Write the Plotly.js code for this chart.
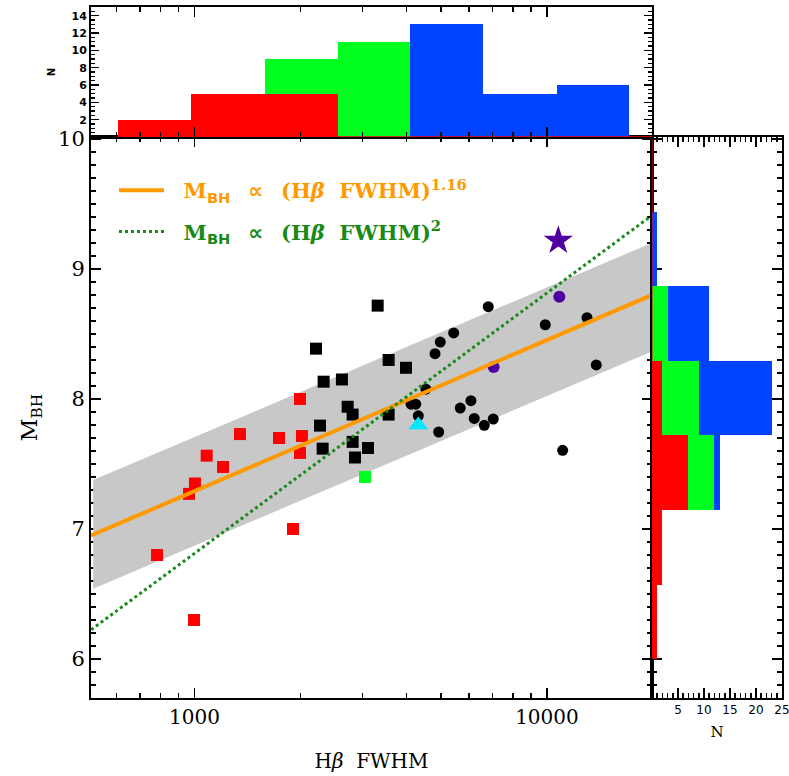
<!DOCTYPE html>
<html><head><meta charset="utf-8">
<script src="https://cdn.plot.ly/plotly-3.0.1.min.js"></script>
<style>html,body{margin:0;padding:0;background:#fff}</style>
</head><body><div id="chart" style="width:789px;height:776px"></div>
<script>
// ---------- data ----------
// red squares
const redSqX = [1992, 1346, 1737, 2018, 1992, 1083, 1205, 1003, 965, 1903, 783, 997];
const redSqY = [8.00, 7.73, 7.70, 7.715, 7.585, 7.564, 7.477, 7.35, 7.27, 7.00, 6.80, 6.30];
// green square
const greenSqX = [3046];
const greenSqY = [7.40];
// black squares
const blackSqX = [3309, 2212, 3555, 3981, 2325, 2620, 2720, 2810, 3555, 2270, 2810, 2310, 3106, 2853];
const blackSqY = [8.718, 8.387, 8.30, 8.24, 8.133, 8.15, 7.94, 7.88, 7.88, 7.795, 7.67, 7.618, 7.623, 7.55];
// black circles
const blackCiX = [6815, 12990, 9890, 5437, 4981, 4812, 13800, 4536, 4115, 4243, 6085, 5675, 4315, 6218, 7041, 6640, 4929, 11080];
const blackCiY = [8.71, 8.625, 8.571, 8.508, 8.438, 8.348, 8.262, 8.075, 7.96, 7.96, 7.987, 7.93, 7.87, 7.85, 7.846, 7.797, 7.746, 7.605];
// purple circles
const purpleCiX = [10840, 7059];
const purpleCiY = [8.787, 8.246];
// cyan triangle
const cyanTriX = [4315];
const cyanTriY = [7.80];
// purple star
const starX = [10770];
const starY = [9.218];

// fit line M ~ FWHM^1.16 and its scatter band
const fitX = [509, 19860];
const fitY = [6.95, 8.80];
const bandX = [516, 19750];
const bandUpper = [7.377, 9.198];
const bandLower = [6.54, 8.364];
// virial relation M ~ FWHM^2
const virX = [509, 19860];
const virY = [6.225, 9.412];

// top histogram (FWHM bins)
const topBinEdges = [608, 980, 1580, 2547, 4085, 6580, 10670, 17100];
const topRed   = [2, 5, 5, 0, 0, 0, 0];
const topGreen = [2, 5, 9, 11, 0, 0, 0];
const topBlue  = [2, 5, 9, 11, 13, 5, 6];

// right histogram (M_BH bins)
const rightBinEdges = [6.0, 6.573, 7.147, 7.72, 8.293, 8.867, 9.44];
const rightRed   = [1, 2, 7, 2, 0, 0];
const rightGreen = [1, 2, 12, 9, 3, 0];
const rightBlue  = [1, 2, 13, 23, 11, 1];

// tick labels
const xTickVals = [1000, 10000];
const xTickText = ['1000', '10000'];
const xMinorVals = [600, 700, 800, 900, 2000, 3000, 4000, 5000, 6000, 7000, 8000, 9000, 20000];
const topNTicks = [2, 4, 6, 8, 10, 12, 14];
const rightNTicks = [5, 10, 15, 20, 25];

// ---------- colours ----------
const RED = '#ff0000', GREEN = '#00ff1e', BLUE = '#0044ff';
const ORANGE = '#ff9900', DKGREEN = '#178a17';
const PURPLE = '#5000a0', CYAN = '#00e8ff', GREY = '#c8c8c8';

// ---------- helpers ----------
const log10 = Math.log10;
function centers(edges, lg) {
  const c = [];
  for (let i = 0; i < edges.length - 1; i++) {
    c.push(lg ? (log10(edges[i]) + log10(edges[i + 1])) / 2 : (edges[i] + edges[i + 1]) / 2);
  }
  return c;
}
function widths(edges, lg) {
  const w = [];
  for (let i = 0; i < edges.length - 1; i++) {
    w.push(lg ? log10(edges[i + 1]) - log10(edges[i]) : edges[i + 1] - edges[i]);
  }
  return w;
}
const topC = centers(topBinEdges, true), topW = widths(topBinEdges, true);
const rightC = centers(rightBinEdges, false), rightW = widths(rightBinEdges, false);

const XR = [2.7064, 4.298];
const YR = [5.7, 10.015];

const traces = [];
// band
traces.push({x: bandX, y: bandLower, type: 'scatter', mode: 'lines', line: {width: 0, color: GREY},
  showlegend: false, hoverinfo: 'skip', xaxis: 'x', yaxis: 'y'});
traces.push({x: bandX, y: bandUpper, type: 'scatter', mode: 'lines', line: {width: 0, color: GREY},
  fill: 'tonexty', fillcolor: GREY, showlegend: false, hoverinfo: 'skip', xaxis: 'x', yaxis: 'y'});
// points
function pts(x, y, sym, size, color) {
  return {x: x, y: y, type: 'scatter', mode: 'markers', showlegend: false,
    marker: {symbol: sym, size: size, color: color, line: {width: 0}}, xaxis: 'x', yaxis: 'y'};
}
traces.push(pts(redSqX, redSqY, 'square', 12, RED));
traces.push(pts(greenSqX, greenSqY, 'square', 12, GREEN));
traces.push(pts(blackSqX, blackSqY, 'square', 12, '#000'));
traces.push(pts(blackCiX, blackCiY, 'circle', 11, '#000'));
traces.push(pts(purpleCiX, purpleCiY, 'circle', 12, PURPLE));
traces.push(pts(cyanTriX, cyanTriY, 'triangle-up', 17, CYAN));
traces.push(pts(starX, starY, 'star', 22, PURPLE));
// lines
const G1 = '\u2002\u00a0', G2 = '\u00a0\u00a0';
const sansBH = '<span style="font-family:\'DejaVu Sans\'">BH</span>';
const propTo = '<span style="font-family:\'DejaVu Sans\'">∝</span>';
function legendText(color, expo) {
  return '<span style="color:' + color + '"><b>' + G2 + 'M<sub>' + sansBH + '</sub>' + G1 + propTo + G1 +
    '(H<i>β</i>' + G2 + 'FWHM)<sup>' + expo + '</sup></b></span>';
}
traces.push({x: fitX, y: fitY, type: 'scatter', mode: 'lines', line: {color: ORANGE, width: 4},
  name: legendText(ORANGE, '1.16'), legendgroup: 'a', xaxis: 'x', yaxis: 'y'});
traces.push({x: virX, y: virY, type: 'scatter', mode: 'lines', line: {color: DKGREEN, width: 3, dash: 'dot'},
  name: legendText(DKGREEN, '2'), legendgroup: 'b', xaxis: 'x', yaxis: 'y'});

// top histogram
function topBar(vals, color) {
  return {type: 'bar', x: topC, y: vals, width: topW, marker: {color: color, line: {width: 0}},
    showlegend: false, xaxis: 'x3', yaxis: 'y3'};
}
traces.push(topBar(topBlue, BLUE));
traces.push(topBar(topGreen, GREEN));
traces.push(topBar(topRed, RED));
traces.push({type: 'scatter', mode: 'lines', x: [log10(topBinEdges[3]), XR[1]], y: [0, 0],
  line: {color: RED, width: 1.5}, showlegend: false, xaxis: 'x3', yaxis: 'y3'});

// right histogram
function rightBar(vals, color) {
  return {type: 'bar', orientation: 'h', y: rightC, x: vals, width: rightW, marker: {color: color, line: {width: 0}},
    showlegend: false, xaxis: 'x2', yaxis: 'y2'};
}
traces.push(rightBar(rightBlue, BLUE));
traces.push(rightBar(rightGreen, GREEN));
traces.push(rightBar(rightRed, RED));
traces.push({type: 'scatter', mode: 'lines', x: [0, 0], y: [rightBinEdges[0], YR[1]],
  line: {color: RED, width: 1}, showlegend: false, xaxis: 'x2', yaxis: 'y2'});

const W = 789, H = 776;
const dx = (a, b) => [a / W, b / W];
const dy = (top, bot) => [(H - bot) / H, (H - top) / H];

const axBase = {showline: true, linecolor: '#000', linewidth: 2, mirror: 'allticks', ticks: 'inside',
  ticklen: 10, tickwidth: 1.5, tickcolor: '#000', showgrid: false, zeroline: false, fixedrange: true};

const serif = 'DejaVu Serif';
const layout = {
  width: W, height: H,
  margin: {l: 0, r: 0, t: 0, b: 0},
  paper_bgcolor: '#fff', plot_bgcolor: 'rgba(0,0,0,0)',
  barmode: 'overlay', bargap: 0,
  font: {family: serif, color: '#000'},
  showlegend: true,
  legend: {x: 114 / W, y: (H - 170) / H, xanchor: 'left', yanchor: 'top', bgcolor: 'rgba(0,0,0,0)',
    traceorder: 'grouped', font: {family: serif, size: 21}, itemwidth: 45, tracegroupgap: 11},
  xaxis: Object.assign({}, axBase, {domain: dx(91, 652), anchor: 'y', type: 'log', range: XR,
    tickmode: 'array', tickvals: xTickVals, ticktext: xTickText,
    tickfont: {family: serif, size: 20},
    minor: {tickmode: 'array', tickvals: xMinorVals, ticks: 'inside', ticklen: 5, tickwidth: 1.5, tickcolor: '#000'},
    title: {text: 'H<i>β</i>  FWHM', font: {family: serif, size: 20}, standoff: 26}}),
  yaxis: Object.assign({}, axBase, {domain: dy(137, 698), anchor: 'x', range: YR, dtick: 1, tick0: 0,
    tickfont: {family: serif, size: 21}, layer: 'below traces',
    minor: {dtick: 0.1, tick0: 0, ticks: 'inside', ticklen: 5, tickwidth: 1.5, tickcolor: '#000'},
    title: {text: 'M<sub>BH</sub>', font: {family: serif, size: 22}, standoff: 14}}),
  xaxis2: Object.assign({}, axBase, {domain: dx(652, 782), anchor: 'y2', range: [0, 25],
    tickmode: 'array', tickvals: rightNTicks, tickfont: {family: 'DejaVu Sans', size: 12},
    ticklabeloverflow: 'allow',
    minor: {dtick: 1, tick0: 0, ticks: 'inside', ticklen: 5, tickwidth: 1.5, tickcolor: '#000'},
    title: {text: 'N', font: {family: serif, size: 15}, standoff: 10}}),
  yaxis2: Object.assign({}, axBase, {domain: dy(137, 698), anchor: 'x2', matches: 'y', range: YR,
    dtick: 1, tick0: 0, showticklabels: false, layer: 'below traces',
    minor: {dtick: 0.1, tick0: 0, ticks: 'inside', ticklen: 5, tickwidth: 1.5, tickcolor: '#000'}}),
  xaxis3: Object.assign({}, axBase, {domain: dx(91, 652), anchor: 'y3', range: XR,
    tickmode: 'array', tickvals: xTickVals.map(log10), showticklabels: false,
    minor: {tickmode: 'array', tickvals: xMinorVals.map(log10), ticks: 'inside', ticklen: 5, tickwidth: 1.5, tickcolor: '#000'}}),
  yaxis3: Object.assign({}, axBase, {domain: dy(7, 137), anchor: 'x3', range: [0, 15],
    tickmode: 'array', tickvals: topNTicks, ticklen: 8,
    tickfont: {family: 'DejaVu Sans', size: 11, weight: 'bold'},
    minor: {dtick: 0.5, tick0: 0, ticks: 'inside', ticklen: 4, tickwidth: 1.5, tickcolor: '#000'},
    title: {text: 'N', font: {family: 'DejaVu Sans', size: 10, weight: 'bold'}, standoff: 14}})
};

Plotly.newPlot('chart', traces, layout, {displayModeBar: false, staticPlot: true});
</script>
</body></html>
